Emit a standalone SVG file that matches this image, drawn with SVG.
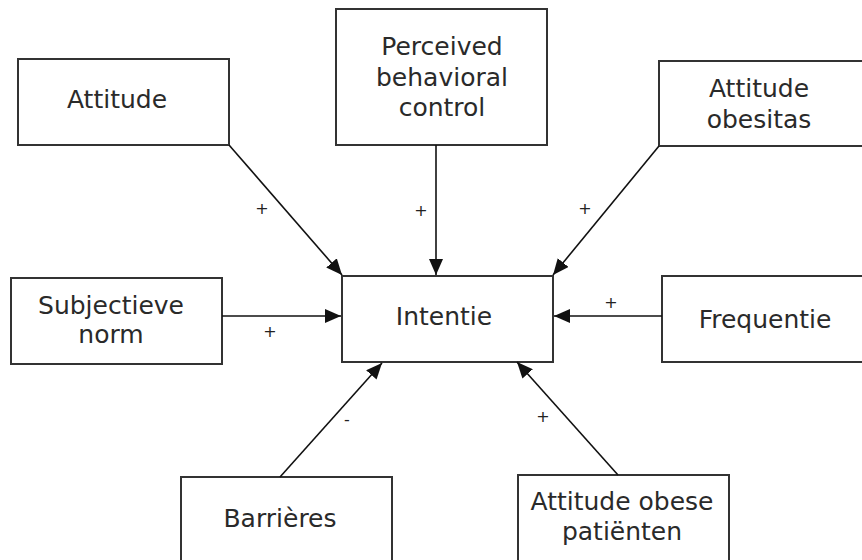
<svg xmlns="http://www.w3.org/2000/svg" width="862" height="560" viewBox="0 0 862 560">
<defs>
<style>
.box{fill:#fff;stroke:#333;stroke-width:2}
.t{font-family:"DejaVu Sans",Verdana,sans-serif;font-size:25px;fill:#2a2a2a;text-anchor:middle}
.lbl{font-family:"DejaVu Sans",sans-serif;font-size:16px;fill:#222;text-anchor:middle}
.c{stroke:#111;stroke-width:1.6;fill:none;marker-end:url(#ah)}
</style>
<marker id="ah" markerUnits="userSpaceOnUse" markerWidth="18" markerHeight="14" refX="16" refY="7" orient="auto">
<path d="M0,0 L16,7 L0,14 Z" fill="#111"/>
</marker>
</defs>
<rect width="862" height="560" fill="#fff"/>
<g id="n-attitude"><rect class="box" x="18" y="59" width="211" height="86"/><text class="t" x="117" y="108">Attitude</text></g>
<g id="n-pbc"><rect class="box" x="336" y="9" width="211" height="136"/><text class="t" x="442" y="55">Perceived</text><text class="t" x="442" y="86">behavioral</text><text class="t" x="442" y="116">control</text></g>
<g id="n-obesitas"><rect class="box" x="659" y="61" width="210" height="85"/><text class="t" x="759" y="97">Attitude</text><text class="t" x="759" y="128">obesitas</text></g>
<g id="n-subjectieve"><rect class="box" x="11" y="278" width="211" height="86"/><text class="t" x="111" y="314">Subjectieve</text><text class="t" x="111" y="343">norm</text></g>
<g id="n-intentie"><rect class="box" x="342" y="276" width="211" height="86"/><text class="t" x="444" y="325">Intentie</text></g>
<g id="n-frequentie"><rect class="box" x="662" y="276" width="210" height="86"/><text class="t" x="765" y="328">Frequentie</text></g>
<g id="n-barrieres"><rect class="box" x="181" y="477" width="211" height="95"/><text class="t" x="280" y="527">Barrières</text></g>
<g id="n-patienten"><rect class="box" x="518" y="475" width="211" height="97"/><text class="t" x="622" y="510">Attitude obese</text><text class="t" x="622" y="540">patiënten</text></g>
<g id="connectors">
<line class="c" x1="229" y1="145" x2="342" y2="275"/>
<line class="c" x1="436" y1="145" x2="436" y2="275"/>
<line class="c" x1="659" y1="146" x2="553" y2="275"/>
<line class="c" x1="222" y1="316" x2="341" y2="316"/>
<line class="c" x1="662" y1="316" x2="554" y2="316"/>
<line class="c" x1="280" y1="477" x2="382" y2="363"/>
<line class="c" x1="618" y1="475" x2="517" y2="362"/>
<text class="lbl" x="262" y="214">+</text>
<text class="lbl" x="421" y="216">+</text>
<text class="lbl" x="585" y="214">+</text>
<text class="lbl" x="270" y="337">+</text>
<text class="lbl" x="611" y="308">+</text>
<text class="lbl" x="347" y="425">-</text>
<text class="lbl" x="543" y="422">+</text>
</g>
</svg>
